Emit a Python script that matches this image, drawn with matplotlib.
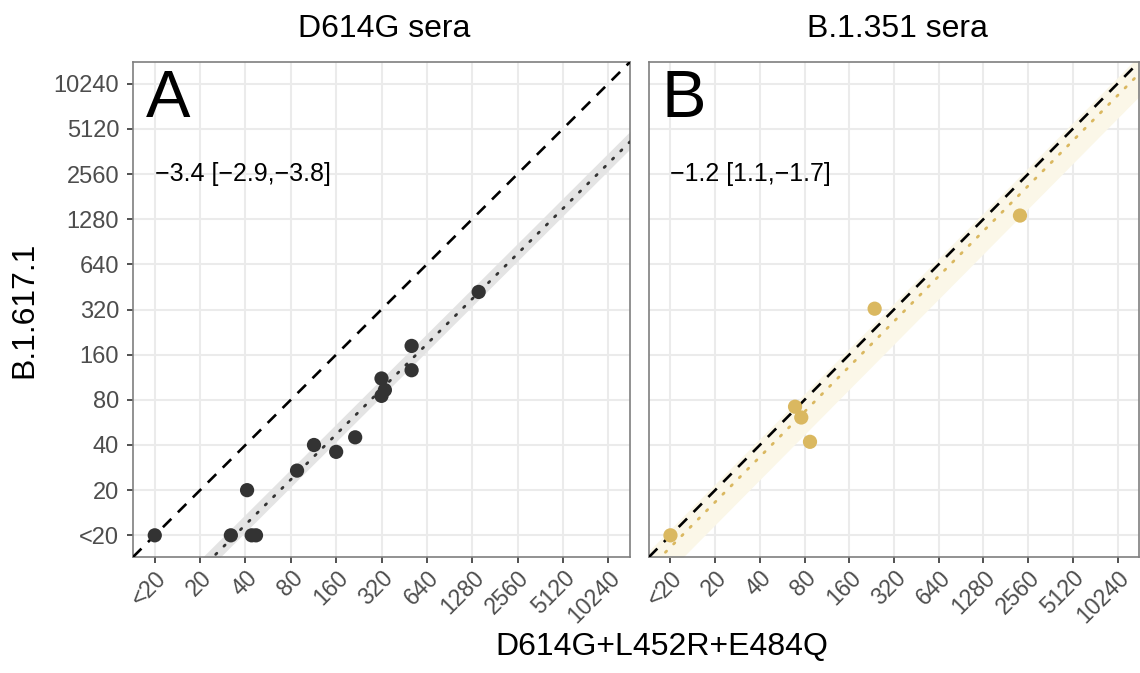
import matplotlib
matplotlib.use("Agg")
import matplotlib.pyplot as plt
import numpy as np

plt.rcParams['font.family'] = ['Liberation Sans', 'DejaVu Sans']

# ---- data ----
tick_values = [10, 20, 40, 80, 160, 320, 640, 1280, 2560, 5120, 10240]
tick_labels = ["<20", "20", "40", "80", "160", "320", "640", "1280", "2560", "5120", "10240"]

d614g_x = [10, 32, 44, 47, 41, 88, 114, 160, 214, 320, 337, 320, 507, 507, 1413]
d614g_y = [10, 10, 10, 10, 20, 27, 40, 36, 45, 111, 93, 85, 183, 126, 419]

b1351_x = [10, 69, 76, 87, 237, 2256]
b1351_y = [10, 72, 61, 42, 324, 1353]

panel_titles = ["D614G sera", "B.1.351 sera"]
panel_letters = ["A", "B"]
fold_est = [1 / 3.4, 1 / 1.2]          # multiplicative shift of fitted line
fold_lo = [1 / 3.8, 1 / 1.7]
fold_hi = [1 / 2.9, 1.1]
fold_text = ["\u22123.4 [\u22122.9,\u22123.8]", "\u22121.2 [1.1,\u22121.7]"]
point_colors = ["#333333", "#DAB860"]
ribbon_colors = ["#E4E4E4", "#FBF7E8"]
xlabel = "D614G+L452R+E484Q"
ylabel = "B.1.617.1"

W, H = 1140, 673
fig = plt.figure(figsize=(W / 100, H / 100), dpi=100)

def ax_rect(x0, x1, y0, y1):
    return [x0 / W, 1 - y1 / H, (x1 - x0) / W, (y1 - y0) / H]

panel_px = [(133, 630), (649, 1139)]
axes = [fig.add_axes(ax_rect(x0, x1, 62, 557)) for x0, x1 in panel_px]

lo = tick_values[0] * 2 ** -0.48
hi = tick_values[-1] * 2 ** 0.48
xs = np.geomspace(lo, hi, 200)

datasets = [(d614g_x, d614g_y), (b1351_x, b1351_y)]

for i, ax in enumerate(axes):
    x, y = datasets[i]
    ax.set_xscale('log', base=2)
    ax.set_yscale('log', base=2)
    ax.set_xlim(lo, hi)
    ax.set_ylim(lo, hi)
    ax.fill_between(xs, xs * fold_lo[i], xs * fold_hi[i], color=ribbon_colors[i], lw=0, zorder=1)
    ax.plot(xs, xs, color='black', lw=1.9, ls=(0, (4.5, 3.5)), zorder=3)
    ax.plot(xs, xs * fold_est[i], color=point_colors[i], lw=2.0, ls=(0, (0.6, 3.6)),
            dash_capstyle='round', zorder=3)
    ax.scatter(x, y, s=105, color=point_colors[i], edgecolors='none', zorder=4)

    ax.set_xticks(tick_values)
    ax.set_xticklabels(tick_labels, rotation=45, ha='right', va='top',
                       rotation_mode='anchor', fontsize=16.5, color='#4D4D4D')
    ax.set_yticks(tick_values)
    ax.minorticks_off()
    if i == 0:
        ax.set_yticklabels(tick_labels, fontsize=17, color='#4D4D4D')
        ax.tick_params(axis='y', length=4, width=1.2, color='#333333', pad=6)
    else:
        ax.set_yticklabels([])
        ax.tick_params(axis='y', length=0)
    ax.tick_params(axis='x', length=4, width=1.2, color='#333333', pad=3)
    ax.grid(True, color='#EBEBEB', lw=1.5, zorder=0)
    ax.set_axisbelow(True)
    for s in ax.spines.values():
        s.set_color('#7F7F7F')
        s.set_linewidth(1.2)
    cx = (panel_px[i][0] + panel_px[i][1]) / 2 + 3
    fig.text(cx / W, 1 - 37 / H, panel_titles[i], ha='center', va='baseline',
             fontsize=23, color='black')
    ax.text(0.026, 0.923, panel_letters[i], transform=ax.transAxes, ha='left', va='center',
            fontsize=48, color='black')
    ax.text(10, 2560, fold_text[i], ha='left', va='center', fontsize=18, color='black')

fig.text(662 / W, 1 - 647 / H, xlabel, ha='center', va='center', fontsize=23)
fig.text(24 / W, 1 - 310 / H, ylabel, ha='center', va='center', rotation=90, fontsize=23)

fig.savefig("out.png", dpi=100)
